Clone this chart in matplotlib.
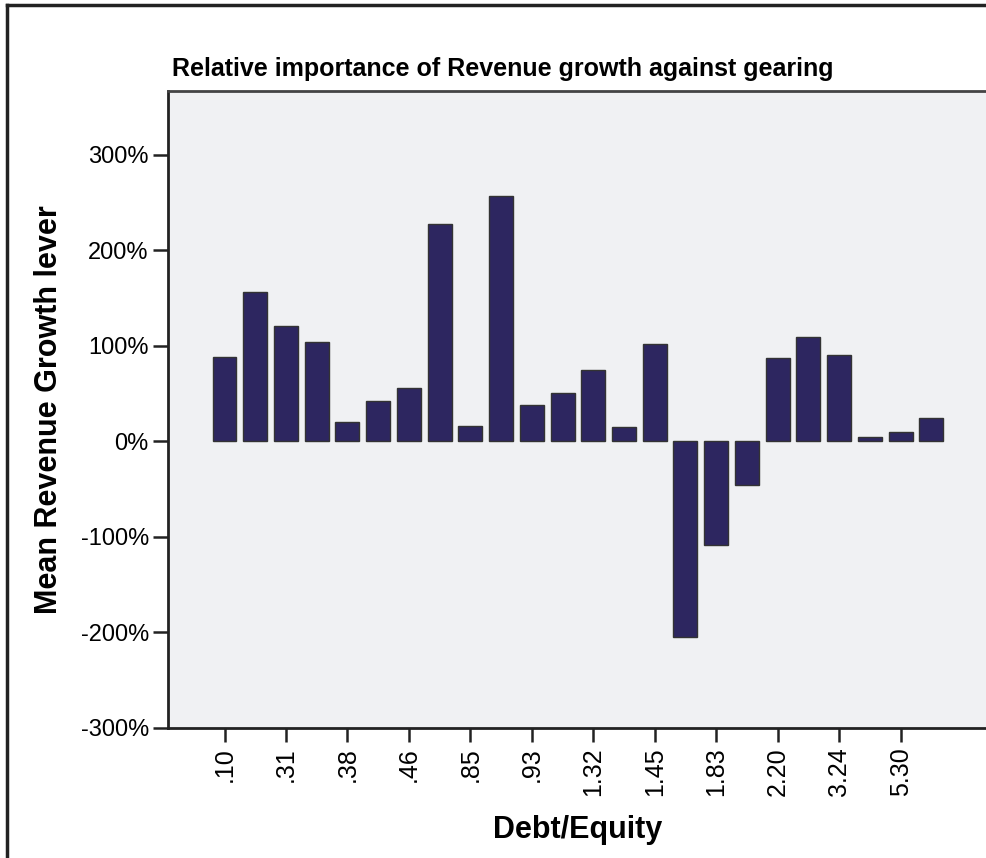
import matplotlib
matplotlib.use("Agg")
import matplotlib.pyplot as plt
from matplotlib.lines import Line2D
from matplotlib.ticker import FuncFormatter

plt.rcParams['font.family'] = ['Liberation Sans', 'DejaVu Sans']

# mean revenue growth lever (%) per debt/equity group, 24 groups
growth = [88, 156, 120, 104, 20, 42, 56, 227, 16, 257, 38, 50,
          74, 15, 102, -205, -109, -46, 87, 109, 90, 4, 10, 24]
# only every other group is labelled on the axis
tick_labels = [".10", ".31", ".38", ".46", ".85", ".93",
               "1.32", "1.45", "1.83", "2.20", "3.24", "5.30"]

fig = plt.figure(figsize=(9.87, 8.58), dpi=100)
ax = fig.add_axes([0.1705, 0.1519, 0.8300, 0.7415])

x = list(range(len(growth)))
ax.bar(x, growth, width=0.78, color="#2D2660", edgecolor="#333333", linewidth=1.0, zorder=3)

ax.set_facecolor("#F0F1F3")
ax.set_xlim(-1.83, 24.83)
ax.set_ylim(-300, 366)
ax.set_yticks([-300, -200, -100, 0, 100, 200, 300])
ax.yaxis.set_major_formatter(FuncFormatter(lambda v, p: f"{v:.0f}%"))
ax.set_xticks(x[::2])
ax.set_xticklabels(tick_labels, rotation=90)

for side in ["right"]:
    ax.spines[side].set_visible(False)
for side in ["left", "bottom"]:
    ax.spines[side].set_linewidth(2.0)
    ax.spines[side].set_color("#222222")
ax.spines["top"].set_linewidth(2.0)
ax.spines["top"].set_color("#444444")

ax.tick_params(axis="y", length=11, width=1.8, pad=3, labelsize=17, color="#222222")
ax.tick_params(axis="x", length=10, width=1.8, pad=4, labelsize=18, color="#222222")

ax.set_ylabel("Mean Revenue Growth lever", fontsize=22, fontweight="bold", labelpad=12)
ax.set_xlabel("Debt/Equity", fontsize=22, fontweight="bold", labelpad=14)

fig.text(172 / 987, 1 - 76 / 858, "Relative importance of Revenue growth against gearing",
         fontsize=18, fontweight="bold", ha="left", va="baseline")

# outer frame (left and top edges visible)
fig.add_artist(Line2D([7 / 987, 7 / 987], [0, 1 - 5 / 858], transform=fig.transFigure,
                      color="#222222", linewidth=2.5))
fig.add_artist(Line2D([7 / 987, 1], [1 - 5 / 858, 1 - 5 / 858], transform=fig.transFigure,
                      color="#222222", linewidth=2.5))

fig.savefig("out.png", dpi=100)
